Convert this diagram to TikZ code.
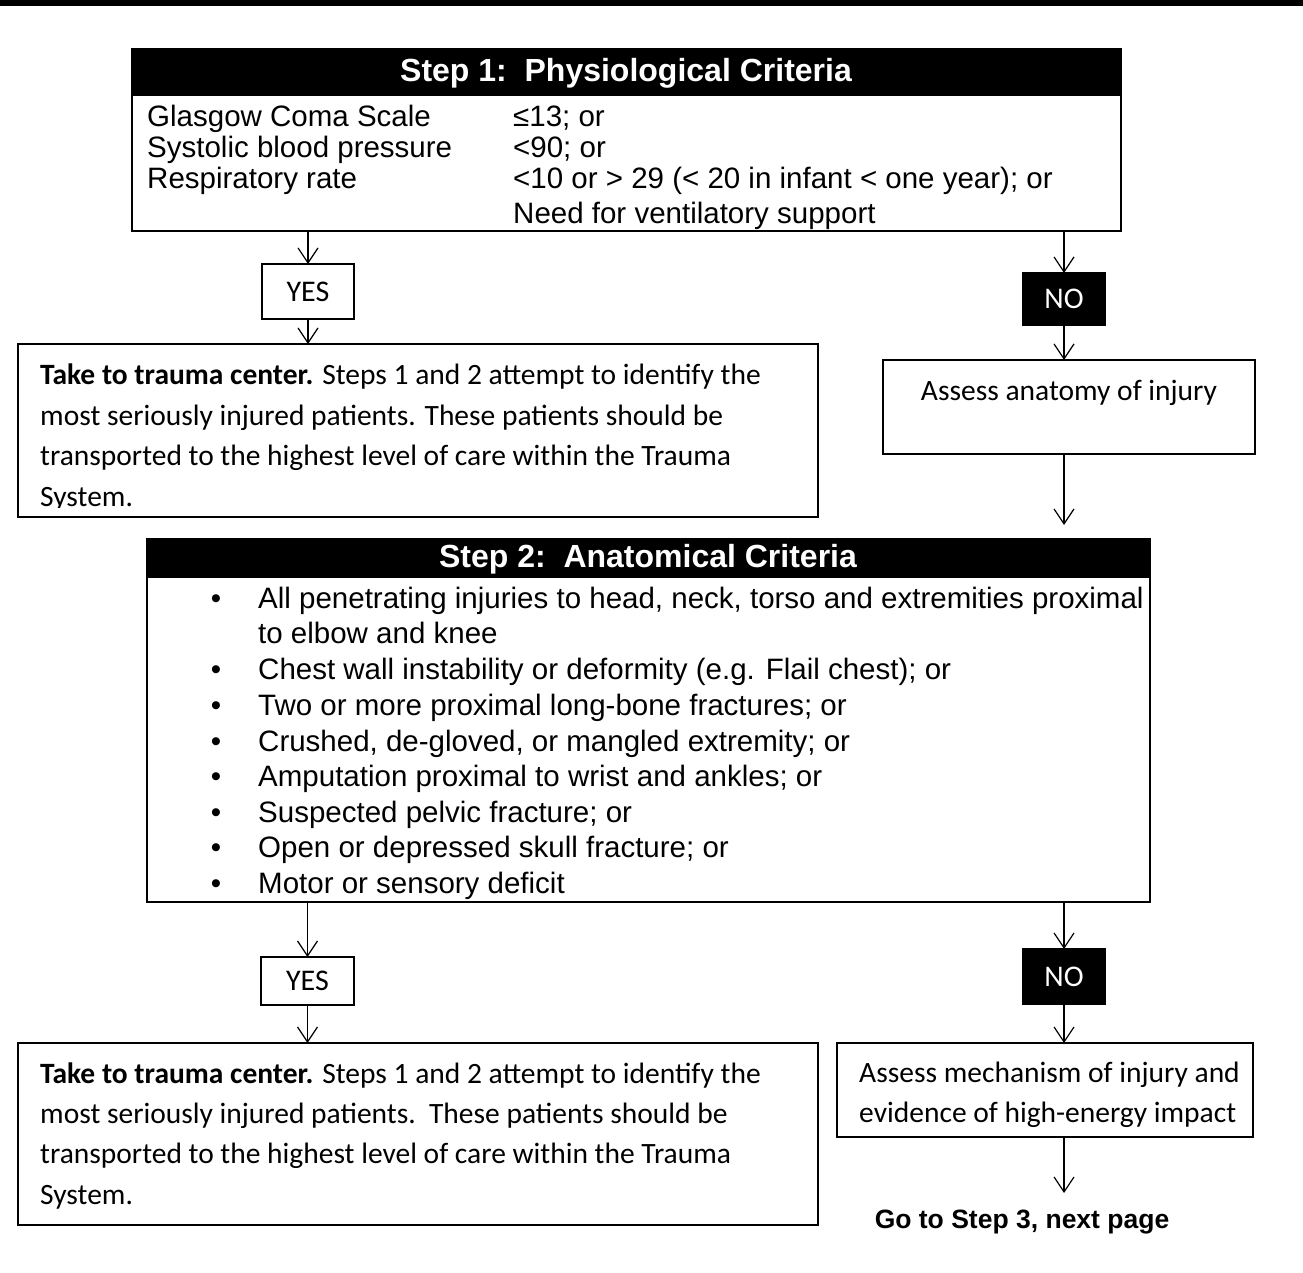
\documentclass[tikz,border=0pt]{standalone}
\usepackage{fontspec}
\setmainfont{Liberation Sans}
\newfontfamily\calibfont{Carlito}
\usetikzlibrary{arrows.meta}
\begin{document}
\begin{tikzpicture}[x=1pt,y=-1pt,
  box/.style={draw, line width=1.5pt, inner sep=0pt, outer sep=0pt, anchor=north west},
  hbar/.style={fill=black, inner sep=0pt, outer sep=0pt, anchor=north west},
  arr/.style={line width=1.2pt, -{Straight Barb[length=15pt,width=20pt,line width=1.2pt]}},
  ar/.style={font=\fontsize{29.5}{34}\selectfont, inner sep=0pt, anchor=base west},
  bul/.style={font=\fontsize{29.5}{34}\selectfont, inner sep=0pt, anchor=base},
  cal/.style={font=\calibfont\fontsize{29.5}{34}\selectfont, inner sep=0pt, anchor=base west},
  lab/.style={font=\calibfont\fontsize{30}{34}\selectfont},
  hdr/.style={font=\bfseries\fontsize{32}{36}\selectfont, text=white, inner sep=0pt}]
\useasboundingbox (0,0) rectangle (1303,1272);
\fill[white] (0,0) rectangle (1303,1272);
% top bar
\node[hbar, minimum width=1303pt, minimum height=6pt] (topbar) at (0,0) {};

% ---------- Step 1 ----------
\node[box, minimum width=989pt, minimum height=182pt] (s1) at (132,49) {};
\node[hbar, minimum width=989pt, minimum height=47pt] (s1h) at (132,49) {};
\node[hdr] (s1t) at (626,73) {Step 1:\ \ Physiological Criteria};
\node[ar] (r1a) at (147,126.5) {Glasgow Coma Scale};
\node[ar] (r2a) at (147,157.5) {Systolic blood pressure};
\node[ar] (r3a) at (147,188.5) {Respiratory rate};
\node[ar] (r1b) at (513,126.5) {≤13; or};
\node[ar] (r2b) at (513,157.5) {<90; or};
\node[ar] (r3b) at (513,188.5) {<10 or > 29 (< 20 in infant < one year); or};
\node[ar] (r4b) at (513,223.5) {Need for ventilatory support};

% left branch 1
\node[box, lab, minimum width=92pt, minimum height=55pt] (yes1) at (262,264) {YES};
\node[box, minimum width=800pt, minimum height=173pt] (take1) at (18,344) {};
\begin{scope}
\clip (18,344) rectangle (818,507);
\node[cal] (t1a) at (40,384) {\textbf{Take to trauma center.} Steps 1 and 2 attempt to identify the};
\node[cal] (t1b) at (40,425) {most seriously injured patients. These patients should be};
\node[cal] (t1c) at (40,465) {transported to the highest level of care within the Trauma};
\node[cal] (t1d) at (40,506) {System.};
\end{scope}
\draw[arr] (s1.south -| yes1.north) -- (yes1.north);
\draw[arr] (yes1.south) -- (yes1.south |- take1.north);

% right branch 1
\node[box, lab, fill=black, text=white, minimum width=82pt, minimum height=52pt] (no1) at (1023,273) {NO};
\node[box, minimum width=372pt, minimum height=94pt] (an) at (883,360) {};
\node[font=\calibfont\fontsize{29.5}{34}\selectfont, inner sep=0pt, anchor=base] (ant) at (1069,400) {Assess anatomy of injury};
\draw[arr] (s1.south -| no1.north) -- (no1.north);
\draw[arr] (no1.south) -- (no1.south |- an.north);
\coordinate (e1) at (1064,525);
\draw[arr] (an.south -| e1) -- (e1);

% ---------- Step 2 ----------
\node[box, minimum width=1003pt, minimum height=363pt] (s2) at (147,539) {};
\node[hbar, minimum width=1003pt, minimum height=39pt] (s2h) at (147,539) {};
\node[hdr] (s2t) at (648,559) {Step 2:\ \ Anatomical Criteria};
\foreach \n/\y/\t in {b1/608/{All penetrating injuries to head, neck, torso and extremities proximal},
  b3/679/{Chest wall instability or deformity (e.g. Flail chest); or},
  b4/715/{Two or more proximal long-bone fractures; or},
  b5/751/{Crushed, de-gloved, or mangled extremity; or},
  b6/786/{Amputation proximal to wrist and ankles; or},
  b7/822/{Suspected pelvic fracture; or},
  b8/857/{Open or depressed skull fracture; or},
  b9/893/{Motor or sensory deficit}}{
  \node[bul] (\n d) at (216,\y) {•};
  \node[ar] (\n) at (258,\y) {\t};
}
\node[ar] (b2) at (258,643) {to elbow and knee};

% left branch 2
\node[box, lab, minimum width=93pt, minimum height=48pt] (yes2) at (261,957) {YES};
\node[box, minimum width=800pt, minimum height=182pt] (take2) at (18,1043) {};
\node[cal] (t2a) at (40,1083) {\textbf{Take to trauma center.} Steps 1 and 2 attempt to identify the};
\node[cal] (t2b) at (40,1123) {most seriously injured patients.\ \ These patients should be};
\node[cal] (t2c) at (40,1163) {transported to the highest level of care within the Trauma};
\node[cal] (t2d) at (40,1204) {System.};
\draw[arr] (s2.south -| yes2.north) -- (yes2.north);
\draw[arr] (yes2.south) -- (yes2.south |- take2.north);

% right branch 2
\node[box, lab, fill=black, text=white, minimum width=82pt, minimum height=55pt] (no2) at (1023,949) {NO};
\node[box, minimum width=416pt, minimum height=94pt] (me) at (837,1043) {};
\node[cal] (m1) at (859,1082) {Assess mechanism of injury and};
\node[cal] (m2) at (859,1122) {evidence of high-energy impact};
\draw[arr] (s2.south -| no2.north) -- (no2.north);
\draw[arr] (no2.south) -- (no2.south |- me.north);
\node[font=\bfseries\fontsize{26.5}{30}\selectfont, inner sep=0pt] (go) at (1022,1222) {Go to Step 3, next page};
\coordinate (e2) at (1064,1193);
\draw[arr] (me.south -| e2) -- (e2);
\end{tikzpicture}
\end{document}
